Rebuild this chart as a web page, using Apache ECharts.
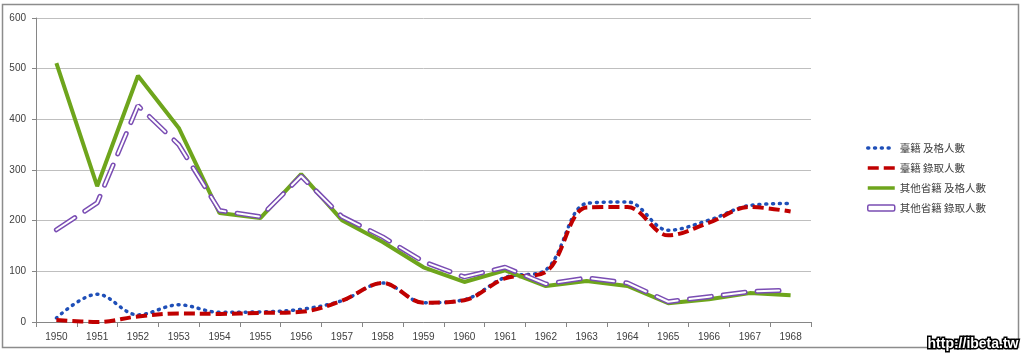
<!DOCTYPE html>
<html>
<head>
<meta charset="utf-8">
<script src="https://cdn.jsdelivr.net/npm/echarts@6/dist/echarts.min.js"></script>
<style>
html,body{margin:0;padding:0;background:#fff;}
#c{width:1024px;height:356px;}
</style>
</head>
<body>
<div id="c"></div>
<script>
var categories = ['1950','1951','1952','1953','1954','1955','1956','1957','1958','1959','1960','1961','1962','1963','1964','1965','1966','1967','1968'];
var twPass = [8,55,14,34,19,20,25,42,77,38,44,88,103,234,237,181,201,230,234];
var twAdmit = [4,0,11,17,16,18,20,42,77,38,43,86,99,226,227,171,196,227,218];
var otherPass = [511,268,486,383,215,205,292,201,158,108,79,102,71,81,71,37,45,57,53];
var otherAdmit = [182,235,427,350,220,208,288,208,168,119,89,108,75,87,77,40,50,60,63];
var seriesNames = ['臺籍 及格人數','臺籍 錄取人數','其他省籍 及格人數','其他省籍 錄取人數'];
var yTicks = [0,100,200,300,400,500,600];

var chart = echarts.init(document.getElementById('c'), null, {renderer:'canvas'});
var purple = '#7a4db3';
var labelFont = 'Liberation Sans';
var cjkFont = '"Noto Sans CJK TC", "Noto Sans CJK SC", sans-serif';
var option = {
  animation: false,
  backgroundColor: '#fff',
  grid: {left: 36, right: 213, top: 18, bottom: 34, containLabel: false},
  xAxis: {
    type: 'category',
    data: categories,
    boundaryGap: true,
    axisLine: {lineStyle: {color: '#868686', width: 1}},
    axisTick: {show: true, length: 5, alignWithLabel: false, lineStyle: {color: '#868686'}},
    axisLabel: {color: '#404040', fontSize: 10, fontFamily: labelFont, margin: 10}
  },
  yAxis: {
    type: 'value',
    min: yTicks[0],
    max: yTicks[yTicks.length - 1],
    interval: 100,
    axisLine: {show: true, lineStyle: {color: '#868686', width: 1}},
    axisTick: {show: true, length: 4, inside: false, lineStyle: {color: '#868686'}},
    axisLabel: {color: '#404040', fontSize: 10, fontFamily: labelFont, margin: 10},
    splitLine: {show: true, lineStyle: {color: '#bfbfbf', width: 1}}
  },
  legend: {
    orient: 'vertical',
    left: 866,
    top: 142,
    padding: 0,
    itemWidth: 27,
    itemHeight: 6,
    itemGap: 8,
    itemStyle: {color: 'rgba(0,0,0,0)', borderWidth: 0, opacity: 0},
    lineStyle: {width: 3.5},
    textStyle: {color: '#404040', fontSize: 10.5, fontFamily: cjkFont, lineHeight: 12},
    data: [
      {name: seriesNames[0]},
      {name: seriesNames[1]},
      {name: seriesNames[2]},
      {name: seriesNames[3], icon: 'roundRect', itemStyle: {color: '#ffffff', borderColor: purple, borderWidth: 1.5, opacity: 1}}
    ]
  },
  graphic: [
    {type: 'rect', shape: {x: 2.5, y: 4.5, width: 1016, height: 343}, style: {fill: 'none', stroke: '#8c8c8c', lineWidth: 1.5}, z: -1, silent: true},
    {type: 'text', right: 4, top: 336, style: {text: 'http://ibeta.tw', font: 'bold 14px "Liberation Sans", sans-serif', fill: '#ffffff', stroke: '#000000', lineWidth: 3}, z: 100}
  ],
  series: [
    {
      name: seriesNames[0], type: 'line', data: twPass, symbol: 'none', smooth: 0.35,
      lineStyle: {color: '#1f4fb8', width: 3.5, type: [1, 5.8], cap: 'round'},
      itemStyle: {color: '#1f4fb8'}, z: 2
    },
    {
      name: seriesNames[1], type: 'line', data: twAdmit, symbol: 'none', smooth: 0.35,
      lineStyle: {color: '#c00000', width: 4, type: [11, 5], cap: 'butt'},
      itemStyle: {color: '#c00000'}, z: 3
    },
    {
      name: seriesNames[2], type: 'line', data: otherPass, symbol: 'none',
      lineStyle: {color: '#6ea51c', width: 4, type: 'solid'},
      itemStyle: {color: '#6ea51c'}, z: 4
    },
    {
      name: seriesNames[3], type: 'line', data: otherAdmit, symbol: 'none',
      lineStyle: {color: purple, width: 5, type: [22, 12], cap: 'round'},
      itemStyle: {color: purple}, z: 5
    },
    {
      name: seriesNames[3] + ' ', type: 'line', data: otherAdmit, symbol: 'none', silent: true,
      lineStyle: {color: '#ffffff', width: 2, type: [22, 12], cap: 'round'},
      itemStyle: {color: '#ffffff'}, z: 6
    }
  ]
};
chart.setOption(option);
</script>
</body>
</html>
